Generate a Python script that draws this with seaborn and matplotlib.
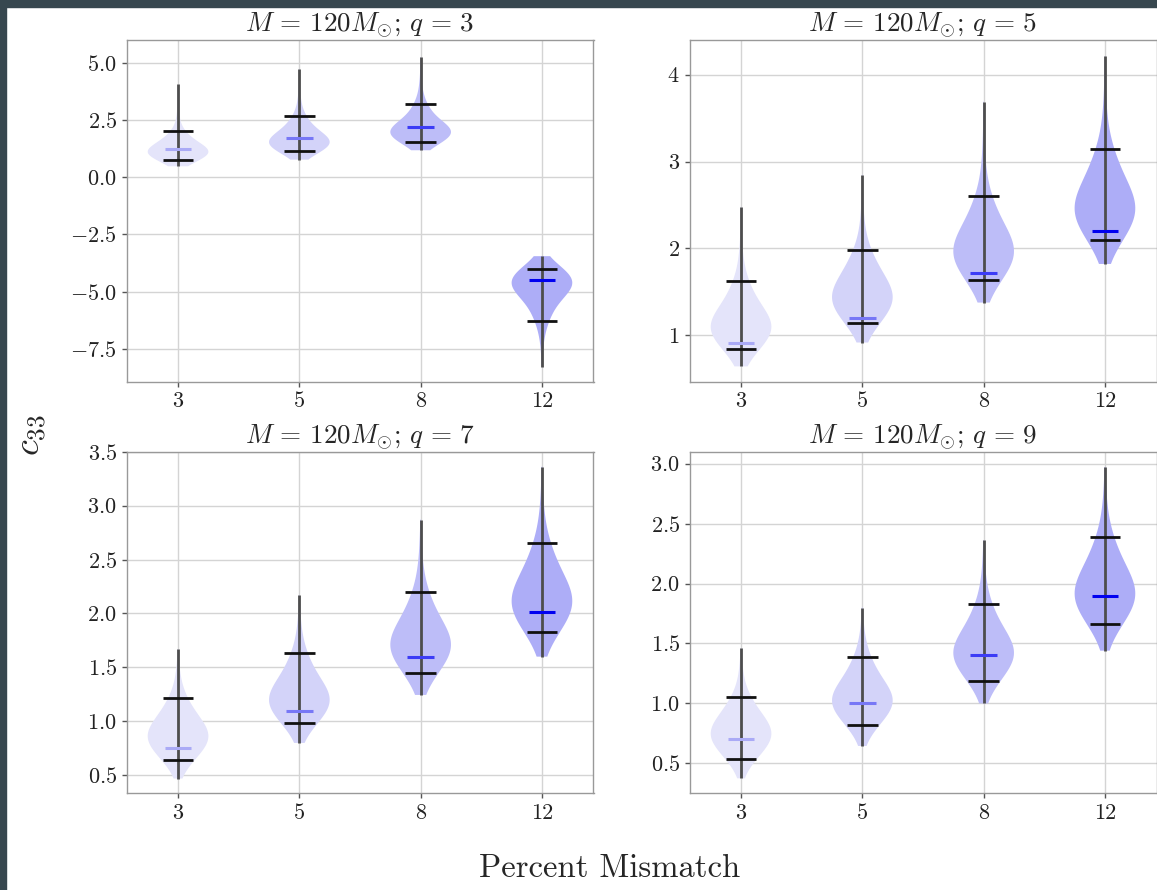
import numpy as np
import pandas as pd
import matplotlib
matplotlib.use("Agg")
import matplotlib.pyplot as plt
from matplotlib.patches import Rectangle
import seaborn as sns

# ---- data -----------------------------------------------------------------
mismatch = ["3", "5", "8", "12"]
# cumulative probabilities at which the sampled quantiles below are given
probs = [0.0, 0.01, 0.05, 0.25, 0.50, 0.75, 0.95, 0.99, 1.0]

# posterior quantiles of c33 for each mismatch level, one panel per mass ratio
quant_q3 = [
    [0.48, 0.62, 0.74, 0.98, 1.15, 1.40, 2.02, 2.90, 4.06],
    [0.77, 0.95, 1.15, 1.38, 1.58, 1.90, 2.69, 3.60, 4.74],
    [1.18, 1.35, 1.54, 1.82, 2.02, 2.35, 3.22, 4.10, 5.25],
    [-8.28, -7.20, -6.28, -5.15, -4.70, -4.35, -3.99, -3.70, -3.45],
]
quant_q5 = [
    [0.64, 0.72, 0.84, 1.00, 1.12, 1.27, 1.62, 2.00, 2.48],
    [0.915, 1.02, 1.145, 1.33, 1.46, 1.64, 1.98, 2.40, 2.85],
    [1.375, 1.50, 1.63, 1.85, 1.99, 2.19, 2.60, 3.10, 3.69],
    [1.82, 1.97, 2.10, 2.33, 2.49, 2.72, 3.15, 3.65, 4.21],
]
quant_q7 = [
    [0.47, 0.55, 0.645, 0.78, 0.88, 0.99, 1.22, 1.45, 1.67],
    [0.80, 0.89, 0.985, 1.12, 1.22, 1.35, 1.63, 1.90, 2.17],
    [1.245, 1.34, 1.446, 1.62, 1.73, 1.88, 2.20, 2.55, 2.87],
    [1.60, 1.72, 1.83, 2.01, 2.14, 2.31, 2.65, 3.00, 3.36],
]
quant_q9 = [
    [0.375, 0.46, 0.54, 0.67, 0.76, 0.86, 1.055, 1.27, 1.46],
    [0.645, 0.73, 0.82, 0.95, 1.04, 1.15, 1.386, 1.60, 1.80],
    [1.00, 1.10, 1.19, 1.34, 1.44, 1.56, 1.83, 2.10, 2.36],
    [1.44, 1.56, 1.66, 1.82, 1.94, 2.09, 2.39, 2.70, 2.97],
]
# injected value of c33 for each run
true_q3 = [1.22, 1.73, 2.20, -4.50]
true_q5 = [0.91, 1.20, 1.71, 2.205]
true_q7 = [0.75, 1.10, 1.60, 2.01]
true_q9 = [0.70, 1.00, 1.40, 1.90]

titles = [r"$M\,=\,120M_{\odot};\,q\,=\,3$", r"$M\,=\,120M_{\odot};\,q\,=\,5$",
          r"$M\,=\,120M_{\odot};\,q\,=\,7$", r"$M\,=\,120M_{\odot};\,q\,=\,9$"]
yticks_q3 = [-7.5, -5.0, -2.5, 0.0, 2.5, 5.0]
yticks_q5 = [1, 2, 3, 4]
yticks_q7 = [0.5, 1.0, 1.5, 2.0, 2.5, 3.0, 3.5]
yticks_q9 = [0.5, 1.0, 1.5, 2.0, 2.5, 3.0]
ylims = [(-8.95, 6.0), (0.46, 4.40), (0.333, 3.5), (0.25, 3.10)]

violin_colors = ["#e4e4fa", "#d3d3f9", "#bdbdf8", "#adadf7"]
marker_colors = ["#aaaaf6", "#7777f6", "#3c3cf6", "#0000f0"]

# ---- style ------------------------------------------------------------------
sns.set_theme(style="whitegrid")
plt.rcParams.update({
    "font.family": "serif",
    "font.serif": ["cmr10"],
    "mathtext.fontset": "cm",
    "axes.formatter.use_mathtext": True,
    "axes.unicode_minus": True,
    "axes.edgecolor": "#999999",
    "axes.linewidth": 1.0,
    "grid.color": "#d4d4d4",
    "grid.linewidth": 1.0,
    "xtick.bottom": True,
    "ytick.left": True,
    "xtick.color": "#555555",
    "ytick.color": "#555555",
    "xtick.labelcolor": "#222222",
    "ytick.labelcolor": "#222222",
    "xtick.major.size": 3.5,
    "ytick.major.size": 3.5,
    "xtick.major.width": 1.0,
    "ytick.major.width": 1.0,
    "xtick.labelsize": 16,
    "ytick.labelsize": 16,
})

W, H = 1157, 890
fig = plt.figure(figsize=(W / 100, H / 100), dpi=100)
fig.patch.set_facecolor("white")

# axes boxes in pixels: left, top, right, bottom
boxes = [(126.5, 40, 593.5, 382), (689.5, 40, 1156.5, 382),
         (126.5, 451.7, 593.5, 793.3), (689.5, 451.7, 1156.5, 793.3)]

panels = [quant_q3, quant_q5, quant_q7, quant_q9]
truths = [true_q3, true_q5, true_q7, true_q9]
yticks = [yticks_q3, yticks_q5, yticks_q7, yticks_q9]

for k, (l, t, r, b) in enumerate(boxes):
    ax = fig.add_axes([l / W, 1 - b / H, (r - l) / W, (b - t) / H])
    rows = []
    for cat, q in zip(mismatch, panels[k]):
        samples = np.interp(np.linspace(0, 1, 2001), probs, q)
        rows.append(pd.DataFrame({"mismatch": cat, "c33": samples}))
    df = pd.concat(rows, ignore_index=True)
    df["mismatch"] = pd.Categorical(df["mismatch"], categories=mismatch, ordered=True)

    sns.violinplot(data=df, x="mismatch", y="c33", hue="mismatch", order=mismatch,
                   hue_order=mismatch, palette=violin_colors, legend=False,
                   cut=0, inner=None, width=0.5, density_norm="width",
                   bw_adjust=3.3, linewidth=0, saturation=1, ax=ax)
    for coll in ax.collections:
        coll.set_edgecolor("none")

    for i, q in enumerate(panels[k]):
        ax.vlines(i, q[0], q[-1], color="#4d4d4d", lw=2.0, zorder=3)
        ax.hlines([q[2], q[6]], i - 0.125, i + 0.125, color="#111111", lw=2.0, zorder=4)
        ax.hlines(truths[k][i], i - 0.11, i + 0.11, color=marker_colors[i], lw=2.2, zorder=5)

    ax.set_xlim(-0.425, 3.425)
    ax.set_ylim(*ylims[k])
    ax.set_yticks(yticks[k])
    ax.set_xlabel("")
    ax.set_ylabel("")
    ax.set_title(titles[k], fontsize=19.5, pad=2)
    ax.grid(True, axis="both")
    ax.set_axisbelow(True)

fig.text(33 / W, 1 - 435 / H, r"$c_{33}$", rotation=90, fontsize=26,
         ha="center", va="center")
fig.text(610 / W, 1 - 868 / H, "Percent Mismatch", fontsize=23.5,
         ha="center", va="center")

# dark frame along the top and left edges
frame = "#37474f"
fig.patches.append(Rectangle((0, 1 - 7 / H), 1, 7 / H, transform=fig.transFigure,
                             color=frame, zorder=10))
fig.patches.append(Rectangle((0, 0), 6 / W, 1, transform=fig.transFigure,
                             color=frame, zorder=10))

fig.savefig("out.png", dpi=100)
